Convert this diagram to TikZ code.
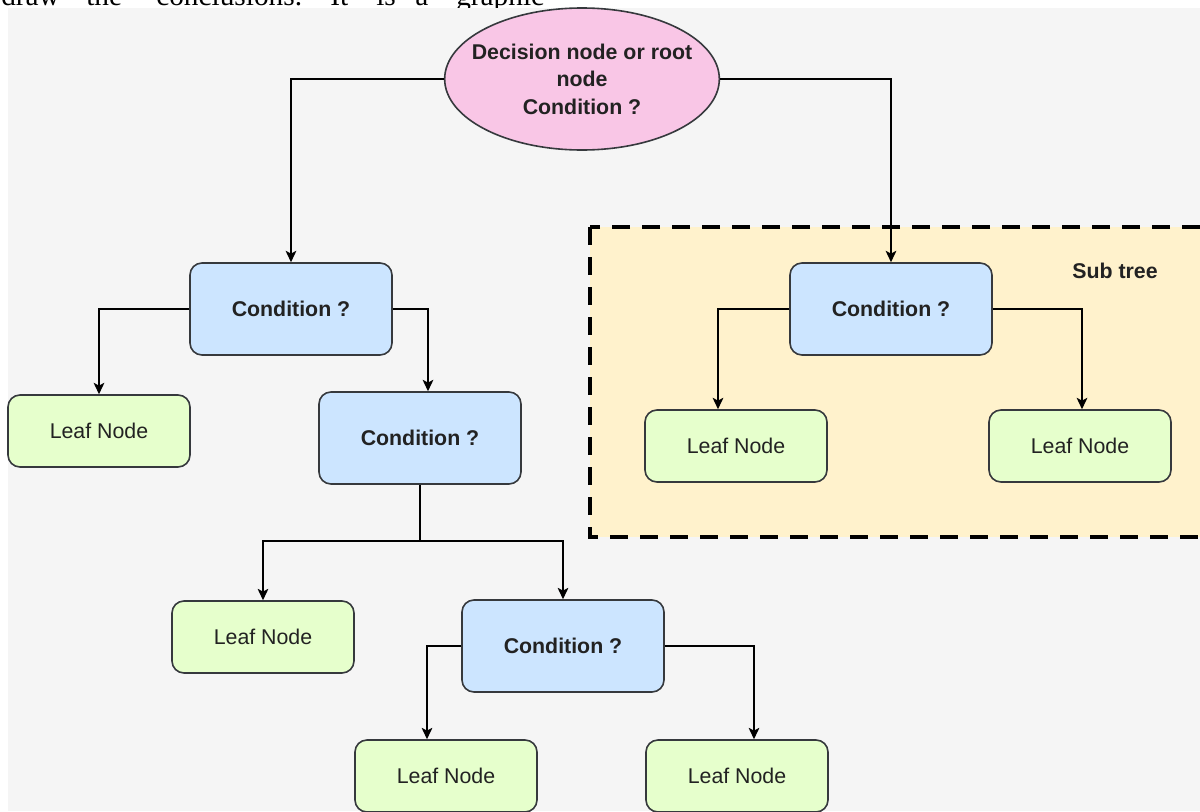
\documentclass[tikz,border=0pt]{standalone}
\usepackage{fontspec}
\setmainfont{Liberation Serif}
\newfontfamily\arialfont{Liberation Sans}
\usetikzlibrary{arrows.meta,shapes.geometric}
\definecolor{bgray}{HTML}{F5F5F5}
\definecolor{condblue}{HTML}{CCE5FF}
\definecolor{leafgreen}{HTML}{E6FFCC}
\definecolor{rootpink}{HTML}{F9C6E6}
\definecolor{subfill}{HTML}{FFF2CC}
\definecolor{edgegray}{HTML}{36393D}
\definecolor{txtdark}{HTML}{222222}
\begin{document}
\begin{tikzpicture}[x=0.75pt,y=-0.75pt,
  condbox/.style={rectangle, rounded corners=9pt, draw=edgegray, line width=1.2pt,
    fill=condblue, minimum width=151.5pt, minimum height=69pt, inner sep=0pt,
    text=txtdark, font=\arialfont\bfseries\fontsize{16}{19}\selectfont},
  leafbox/.style={rectangle, rounded corners=9pt, draw=edgegray, line width=1.2pt,
    fill=leafgreen, minimum width=136.5pt, minimum height=54pt, inner sep=0pt,
    text=txtdark, font=\arialfont\fontsize{16}{19}\selectfont},
  rootshape/.style={ellipse, draw=edgegray, line width=1.2pt, fill=rootpink,
    minimum width=206pt, minimum height=106.5pt, inner sep=0pt},
  roottext/.style={inner sep=0pt, align=center,
    text=txtdark, font=\arialfont\bfseries\fontsize{16}{20.6}\selectfont},
  conn/.style={draw=black, line width=1.1pt, -{Stealth[length=8.5pt,width=8pt,inset=2pt]}},
  plainconn/.style={draw=black, line width=1.1pt},
  subframe/.style={draw=black, fill=subfill, line width=3pt, dash pattern=on 13.5pt off 9pt},
  toptext/.style={anchor=base west, inner sep=0pt, font=\fontsize{22}{26}\selectfont}
]
\useasboundingbox (0,0) rectangle (1200,811);
\clip (0,0) rectangle (1200,811);
\fill[white] (0,0) rectangle (1200,811);
% cropped line of text above the figure
\node[toptext] (w1) at (1,5) {draw};
\node[toptext] (w2) at (86,5) {the};
\node[toptext] (w3) at (156,5) {conclusions.};
\node[toptext] (w4) at (330,5) {It};
\node[toptext] (w5) at (376,5) {is};
\node[toptext] (w6) at (415,5) {a};
\node[toptext] (w7) at (456,5) {graphic};
% figure background
\fill[bgray] (8,8) rectangle (1200,811);
% sub tree frame
\draw[subframe] (590,227) rectangle (1230,537);
\node[font=\arialfont\bfseries\fontsize{16}{19}\selectfont, text=txtdark] (sublabel) at (1115,271) {Sub tree};
% nodes
\node[rootshape] (root) at (582,79) {};
\node[roottext] (roottxt) at (root.center) {Decision node or root\\node\\Condition ?};
\node[condbox] (c1) at (291,309) {Condition ?};
\node[leafbox] (l1) at (99,431) {Leaf Node};
\node[condbox] (c2) at (420,438) {Condition ?};
\node[leafbox] (l3) at (263,637) {Leaf Node};
\node[condbox] (c3) at (563,646) {Condition ?};
\node[leafbox] (l4) at (446,776) {Leaf Node};
\node[leafbox] (l5) at (737,776) {Leaf Node};
\node[condbox] (c4) at (891,309) {Condition ?};
\node[leafbox] (l6) at (736,446) {Leaf Node};
\node[leafbox] (l7) at (1080,446) {Leaf Node};
% connectors
\draw[conn] (root.west) -| (c1.north);
\draw[conn] (root.east) -| (c4.north);
\draw[conn] (c1.west) -| (l1.north);
\draw[conn] (c1.east) -| ([xshift=6pt]c2.north);
\coordinate (j) at (420,541);
\draw[plainconn] (c2.south) -- (j);
\draw[conn] (j) -| (l3.north);
\draw[conn] (j) -| (c3.north);
\draw[conn] (c3.west) -| ([xshift=-14.25pt]l4.north);
\draw[conn] (c3.east) -| ([xshift=12.75pt]l5.north);
\draw[conn] (c4.west) -| ([xshift=-13.5pt]l6.north);
\draw[conn] (c4.east) -| ([xshift=1.5pt]l7.north);
\end{tikzpicture}
\end{document}
